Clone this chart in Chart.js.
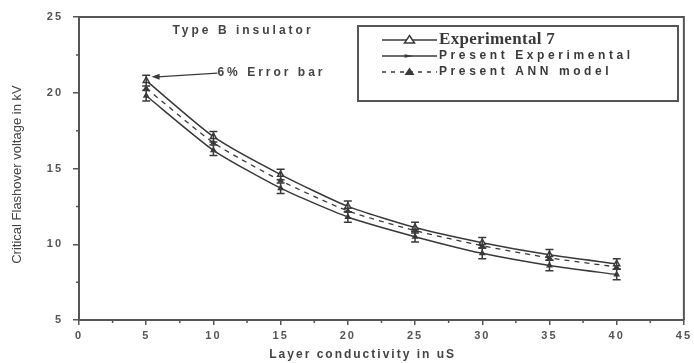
<!DOCTYPE html>
<html>
<head>
<meta charset="utf-8">
<script src="https://cdn.jsdelivr.net/npm/chart.js@4.4.0/dist/chart.umd.min.js"></script>
<style>
  html, body { margin: 0; padding: 0; background: #fff; }
  #wrap { width: 694px; height: 363px; position: relative; }
</style>
</head>
<body>
<div id="wrap"><canvas id="chart"></canvas></div>
<script>
// layer conductivity (uS)
const conductivity = [5, 10, 15, 20, 25, 30, 35, 40];
const experimental7 = [20.8, 17.1, 14.6, 12.5, 11.1, 10.1, 9.3, 8.7];
const presentExperimental = [19.8, 16.2, 13.7, 11.8, 10.5, 9.4, 8.6, 8.0];
const presentAnn = [20.3, 16.7, 14.2, 12.2, 10.9, 9.9, 9.1, 8.5];
const errorHalf = 0.35;
const xTicks = [0, 5, 10, 15, 20, 25, 30, 35, 40, 45];
const yTicks = [5, 10, 15, 20, 25];

const ink = "#3a3a3a";
const sans = "'Liberation Sans', Arial, sans-serif";

const toPoints = (vals) => vals.map((v, i) => ({ x: conductivity[i], y: v }));

// wide letter spacing on tick labels like the scanned figure
const spacing = {
  id: "spacing",
  beforeDraw(chart) { chart.ctx.letterSpacing = "2px"; }
};

// error bars, minor ticks, frame, titles, legend and notes
const extras = {
  id: "extras",
  afterDatasetsDraw(chart) {
    const { ctx, chartArea: a, scales: { x, y } } = chart;
    ctx.save();
    ctx.strokeStyle = ink;
    ctx.lineWidth = 1.5;

    // error bars on the two measured series
    [experimental7, presentExperimental].forEach((vals) => {
      vals.forEach((v, i) => {
        const px = x.getPixelForValue(conductivity[i]);
        const top = y.getPixelForValue(v + errorHalf);
        const bot = y.getPixelForValue(v - errorHalf);
        ctx.beginPath();
        ctx.moveTo(px, top); ctx.lineTo(px, bot);
        ctx.moveTo(px - 4, top); ctx.lineTo(px + 4, top);
        ctx.moveTo(px - 4, bot); ctx.lineTo(px + 4, bot);
        ctx.stroke();
      });
    });

    // frame top/right
    ctx.lineWidth = 2;
    ctx.strokeStyle = "#555";
    ctx.beginPath();
    ctx.moveTo(a.left, a.top); ctx.lineTo(a.right, a.top); ctx.lineTo(a.right, a.bottom);
    ctx.stroke();

    // minor ticks
    ctx.lineWidth = 1.5;
    ctx.beginPath();
    for (let v = 2.5; v < 45; v += 5) {
      const px = x.getPixelForValue(v);
      ctx.moveTo(px, a.bottom); ctx.lineTo(px, a.bottom + 3);
    }
    for (let v = 7.5; v < 25; v += 5) {
      const py = y.getPixelForValue(v);
      ctx.moveTo(a.left, py); ctx.lineTo(a.left - 3, py);
    }
    ctx.stroke();

    // x axis title (sits a bit left of centre in the original)
    ctx.fillStyle = "#444";
    ctx.font = "bold 12px " + sans;
    ctx.letterSpacing = "2px";
    ctx.textAlign = "center";
    ctx.textBaseline = "middle";
    ctx.fillText("Layer conductivity in uS", x.getPixelForValue(21.1), a.bottom + 35);

    // y axis title
    ctx.save();
    ctx.translate(17, y.getPixelForValue(14.6));
    ctx.rotate(-Math.PI / 2);
    ctx.letterSpacing = "0px";
    ctx.font = "13px " + sans;
    ctx.fillText("Critical Flashover voltage in kV", 0, 0);
    ctx.restore();

    // note: Type B insulator
    ctx.font = "bold 12px " + sans;
    ctx.letterSpacing = "3px";
    ctx.fillText("Type B insulator", x.getPixelForValue(12.2), y.getPixelForValue(24.1));

    // note: 6% Error bar with arrow
    const tipX = x.getPixelForValue(5.4), tipY = y.getPixelForValue(21.05);
    const tailX = x.getPixelForValue(10.3), tailY = y.getPixelForValue(21.3);
    ctx.strokeStyle = ink;
    ctx.lineWidth = 1.3;
    ctx.beginPath();
    ctx.moveTo(tailX, tailY); ctx.lineTo(tipX + 6, tipY);
    ctx.stroke();
    ctx.fillStyle = ink;
    ctx.beginPath();
    ctx.moveTo(tipX, tipY); ctx.lineTo(tipX + 8, tipY - 3); ctx.lineTo(tipX + 8, tipY + 3);
    ctx.closePath(); ctx.fill();
    ctx.textAlign = "left";
    ctx.fillStyle = "#444";
    ctx.fillText("6% Error bar", tailX, tailY);

    // legend box
    const bx = 358, by = 26, bw = 320, bh = 75;
    ctx.letterSpacing = "0px";
    ctx.strokeStyle = "#555";
    ctx.lineWidth = 2;
    ctx.strokeRect(bx, by, bw, bh);
    const rows = [
      { label: "Experimental 7", dash: [], marker: "open", font: "bold 17px 'Liberation Serif', 'Times New Roman', serif", spacing: "0.3px" },
      { label: "Present Experimental", dash: [], marker: "dot", font: "bold 12px " + sans, spacing: "3.6px" },
      { label: "Present ANN model", dash: [4, 5], marker: "fill", font: "bold 12px " + sans, spacing: "3.6px" }
    ];
    rows.forEach((r, i) => {
      const ly = by + 14 + i * 16;
      const lx0 = bx + 24, lx1 = bx + 79;
      ctx.strokeStyle = ink;
      ctx.lineWidth = 1.5;
      ctx.setLineDash(r.dash);
      ctx.beginPath(); ctx.moveTo(lx0, ly); ctx.lineTo(lx1, ly); ctx.stroke();
      ctx.setLineDash([]);
      const mx = (lx0 + lx1) / 2;
      ctx.beginPath();
      if (r.marker === "dot") {
        ctx.moveTo(mx - 5, ly - 1.8); ctx.lineTo(mx + 4, ly); ctx.lineTo(mx - 5, ly + 1.8);
        ctx.closePath(); ctx.fillStyle = ink; ctx.fill();
      } else {
        ctx.moveTo(mx, ly - 4.5); ctx.lineTo(mx + 5, ly + 3); ctx.lineTo(mx - 5, ly + 3);
        ctx.closePath();
        if (r.marker === "open") { ctx.fillStyle = "#fff"; ctx.fill(); ctx.stroke(); }
        else { ctx.fillStyle = ink; ctx.fill(); }
      }
      ctx.font = r.font;
      ctx.letterSpacing = r.spacing;
      ctx.fillStyle = "#3a3a3a";
      ctx.textAlign = "left";
      ctx.fillText(r.label, lx1 + 2, ly);
    });
    ctx.restore();
  }
};

const tickFont = { family: sans, size: 11, weight: "bold" };

new Chart(document.getElementById("chart"), {
  type: "line",
  data: {
    datasets: [
      {
        label: "Experimental 7",
        data: toPoints(experimental7),
        borderColor: ink, borderWidth: 1.5,
        pointStyle: "triangle", pointRadius: 3.5,
        pointBackgroundColor: "#fff", pointBorderColor: ink,
        tension: 0.2
      },
      {
        label: "Present Experimental",
        data: toPoints(presentExperimental),
        borderColor: ink, borderWidth: 1.5,
        pointStyle: "triangle", pointRadius: 2.5,
        pointBackgroundColor: ink, pointBorderColor: ink,
        tension: 0.2
      },
      {
        label: "Present ANN model",
        data: toPoints(presentAnn),
        borderColor: ink, borderWidth: 1.3, borderDash: [5, 5],
        pointStyle: "triangle", pointRadius: 2.5,
        pointBackgroundColor: ink, pointBorderColor: ink,
        tension: 0.2
      }
    ]
  },
  options: {
    responsive: true,
    maintainAspectRatio: false,
    animation: false,
    layout: { padding: { top: 17, right: 4, left: 0, bottom: 0 } },
    plugins: { legend: { display: false }, tooltip: { enabled: false } },
    scales: {
      x: {
        type: "linear", min: 0, max: 45,
        afterBuildTicks: (s) => { s.ticks = xTicks.map((v) => ({ value: v })); },
        ticks: { color: "#555", font: tickFont, padding: 4 },
        grid: { drawOnChartArea: false, drawTicks: true, tickLength: 5, color: "#555", lineWidth: 1.5 },
        border: { display: true, color: "#555", width: 2 },
        afterFit: (s) => { s.height = 43; }
      },
      y: {
        type: "linear", min: 5, max: 25,
        afterBuildTicks: (s) => { s.ticks = yTicks.map((v) => ({ value: v })); },
        ticks: { color: "#555", font: tickFont, padding: 10 },
        grid: { drawOnChartArea: false, drawTicks: true, tickLength: 6, color: "#555", lineWidth: 1.5 },
        border: { display: true, color: "#555", width: 2 },
        afterFit: (s) => { s.width = 79; }
      }
    }
  },
  plugins: [spacing, extras]
});
</script>
</body>
</html>
